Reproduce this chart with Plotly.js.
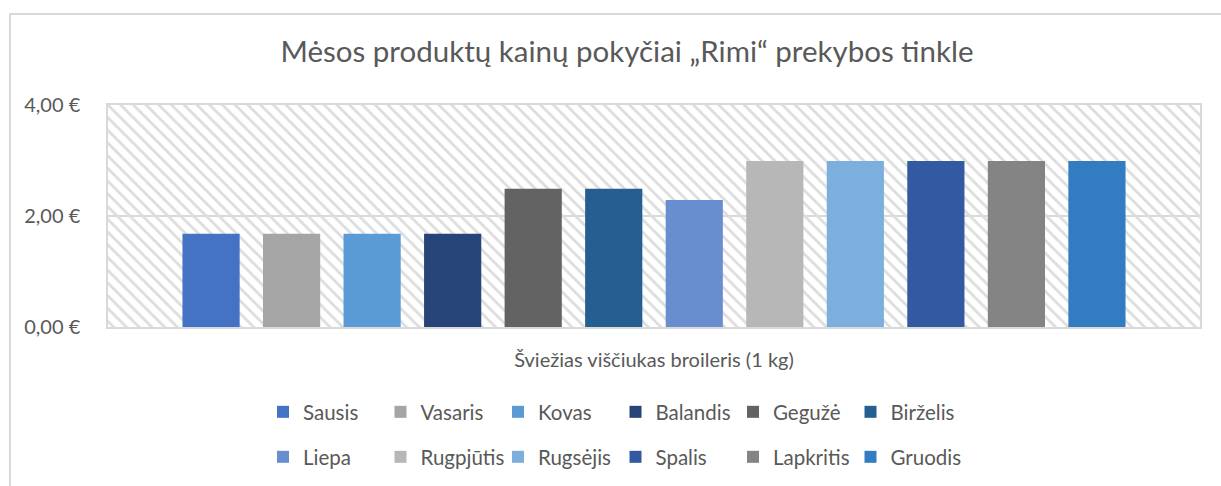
<!DOCTYPE html>
<html>
<head>
<meta charset="utf-8">
<script src="https://cdn.plot.ly/plotly-3.0.1.min.js"></script>
<style>
  html, body { margin: 0; padding: 0; background: #fff; overflow: hidden; }
  #frame { position: absolute; left: 9px; top: 13px; width: 1300px; height: 600px;
           border-left: 2px solid #d9d9d9; border-top: 2px solid #d9d9d9; }
  #chart { position: absolute; left: 0; top: 0; width: 1221px; height: 486px; }
</style>
</head>
<body>
<div id="frame"></div>
<div id="chart"></div>
<script>
const chartTitle = 'Mėsos produktų kainų pokyčiai „Rimi“ prekybos tinkle';
const category = 'Šviežias viščiukas broileris (1 kg)';
const months = ['Sausis', 'Vasaris', 'Kovas', 'Balandis', 'Gegužė', 'Birželis',
                'Liepa', 'Rugpjūtis', 'Rugsėjis', 'Spalis', 'Lapkritis', 'Gruodis'];
const prices = [1.68, 1.68, 1.68, 1.68, 2.49, 2.49, 2.29, 2.99, 2.99, 2.99, 2.99, 2.99];
const colors = ['#4472C4', '#A5A5A5', '#5B9BD5', '#264478', '#636363', '#255E91',
                '#698ED0', '#B7B7B7', '#7CAFDD', '#335AA1', '#848484', '#327DC2'];
const yMax = 4;
const yTicks = [0, 2, 4];
const yTickText = ['0,00 €', '2,00 €', '4,00 €'];

const textColor = '#595959';
const fontFam = 'Lato, "Open Sans", sans-serif';

const traces = [];
// hatched plot-area background
traces.push({
  type: 'bar', x: [0.5], y: [yMax], width: [1], xaxis: 'x', yaxis: 'y',
  marker: { color: '#dcdcdc', line: { width: 0 },
            pattern: { shape: '\\', size: 9, solidity: 0.3, fillmode: 'replace' } },
  showlegend: false, hoverinfo: 'skip'
});
months.forEach((m, i) => {
  traces.push({
    type: 'bar', name: m, x: [category], y: [prices[i]],
    xaxis: 'x2', yaxis: 'y',
    marker: { color: colors[i], line: { width: 0 } },
    legend: i < 6 ? 'legend' : 'legend2',
    hovertemplate: m + ': %{y:.2f} €<extra></extra>'
  });
});

const legendCommon = {
  orientation: 'h', entrywidth: 72.5, entrywidthmode: 'pixels', itemwidth: 30,
  xref: 'container', yref: 'container', xanchor: 'left', yanchor: 'middle',
  font: { family: fontFam, size: 20.5, color: textColor },
  bgcolor: 'rgba(0,0,0,0)', borderwidth: 0, traceorder: 'normal'
};

const layout = {
  width: 1221, height: 486,
  margin: { l: 108, r: 21, t: 105, b: 159 },
  paper_bgcolor: 'rgba(0,0,0,0)', plot_bgcolor: '#ffffff',
  separators: ',.',
  barmode: 'group', bargap: 0.115, bargroupgap: 0.29,
  title: {
    text: chartTitle, xref: 'container', yref: 'container',
    x: 627 / 1221, xanchor: 'center', y: 1 - 52 / 486, yanchor: 'middle',
    font: { family: fontFam, size: 29.5, color: textColor }
  },
  xaxis: { range: [0, 1], visible: false, fixedrange: true },
  xaxis2: {
    overlaying: 'x', side: 'bottom', type: 'category',
    showgrid: false, zeroline: false,
    showline: true, mirror: true, linecolor: '#d9d9d9', linewidth: 1.5,
    ticks: '', ticklabelstandoff: 14,
    tickfont: { family: fontFam, size: 20, color: textColor },
    fixedrange: true
  },
  yaxis: {
    range: [0, yMax], tickmode: 'array', tickvals: yTicks, ticktext: yTickText,
    showgrid: true, gridcolor: '#d9d9d9', gridwidth: 1.5, zeroline: false,
    showline: true, mirror: true, linecolor: '#d9d9d9', linewidth: 1.5,
    ticks: '', ticklabelstandoff: 22,
    tickfont: { family: fontFam, size: 20, color: textColor },
    fixedrange: true
  },
  legend: Object.assign({}, legendCommon, { x: 263 / 1221, y: 1 - 412 / 486 }),
  legend2: Object.assign({}, legendCommon, { x: 263 / 1221, y: 1 - 457 / 486 }),
  showlegend: true
};

Plotly.newPlot('chart', traces, layout, { displayModeBar: false, responsive: false });
</script>
</body>
</html>
